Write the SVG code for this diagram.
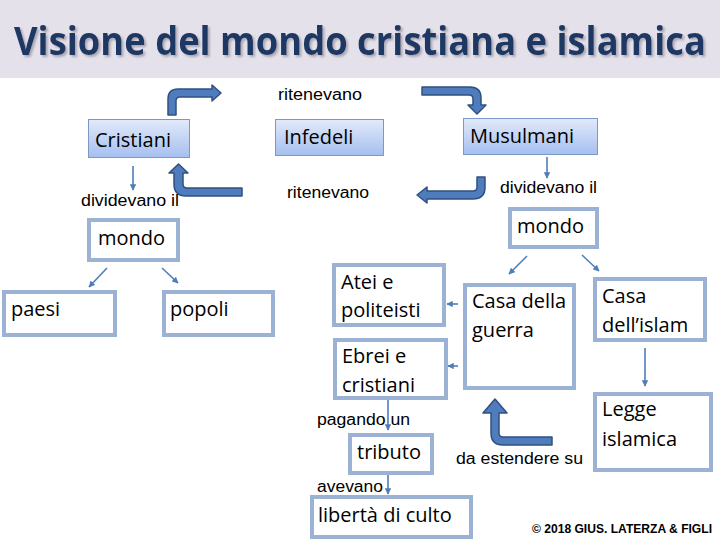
<svg xmlns="http://www.w3.org/2000/svg" width="720" height="540" viewBox="0 0 720 540">
<defs>
<linearGradient id="g" x1="0" y1="0" x2="0" y2="1">
<stop offset="0" stop-color="#e2eafa"/>
<stop offset="1" stop-color="#a5bff0"/>
</linearGradient>
<filter id="sh" x="-5%" y="-20%" width="110%" height="150%">
<feDropShadow dx="2" dy="2" stdDeviation="0.8" flood-color="#9a9aa8" flood-opacity="0.8"/>
</filter>
<marker id="ah" viewBox="0 0 10 10" refX="9" refY="5" markerWidth="4" markerHeight="4" orient="auto" markerUnits="strokeWidth">
<path d="M0,0 L10,5 L0,10 Z" fill="#4f7db8"/>
</marker>
<style>
.gbox{fill:url(#g);stroke:#7a98c8;stroke-width:1}
.wbox{fill:#ffffff;stroke:#9cb2d5;stroke-width:4}
.bt{font-family:"Open Sans","Noto Sans",sans-serif;font-size:20px;fill:#000}
.lb{font-family:"Liberation Sans",Arial,sans-serif;font-size:16px;fill:#000}
.ln{fill:none;stroke:#4f7db8;stroke-width:1.6;marker-end:url(#ah)}
.ba{fill:#4f7cbc;stroke:#2f5080;stroke-width:1.5;stroke-linejoin:round}
</style>
</defs>
<rect x="0" y="0" width="720" height="78" fill="#e5e1eb"/>
<text x="14" y="55" font-family="'Open Sans','Noto Sans',sans-serif" font-weight="bold" font-size="40" fill="#1f3864" filter="url(#sh)" textLength="692" lengthAdjust="spacingAndGlyphs">Visione del mondo cristiana e islamica</text>

<g id="cristiani"><rect class="gbox" x="88.5" y="119.5" width="101" height="38"/><text class="bt" x="95" y="147">Cristiani</text></g>
<g id="infedeli"><rect class="gbox" x="275.5" y="119.5" width="108" height="36"/><text class="bt" x="284" y="144">Infedeli</text></g>
<g id="musulmani"><rect class="gbox" x="463.5" y="118.5" width="134" height="36"/><text class="bt" x="470" y="143">Musulmani</text></g>
<g id="mondo1"><rect class="wbox" x="89" y="220" width="89" height="40"/><text class="bt" x="98" y="245">mondo</text></g>
<g id="paesi"><rect class="wbox" x="4" y="292" width="111" height="43"/><text class="bt" x="11" y="316">paesi</text></g>
<g id="popoli"><rect class="wbox" x="164" y="292" width="109" height="43"/><text class="bt" x="170" y="316">popoli</text></g>
<g id="mondo2"><rect class="wbox" x="510" y="209" width="87" height="38"/><text class="bt" x="517" y="233">mondo</text></g>
<g id="atei"><rect class="wbox" x="334" y="265" width="110" height="60"/><text class="bt" x="341" y="289">Atei e</text><text class="bt" x="341" y="317">politeisti</text></g>
<g id="guerra"><rect class="wbox" x="465" y="285" width="109" height="103"/><text class="bt" x="472" y="308">Casa della</text><text class="bt" x="472" y="337">guerra</text></g>
<g id="islam"><rect class="wbox" x="595" y="279" width="110" height="61"/><text class="bt" x="602" y="303">Casa</text><text class="bt" x="602" y="332">dell’islam</text></g>
<g id="ebrei"><rect class="wbox" x="335" y="340" width="111" height="58"/><text class="bt" x="342" y="363">Ebrei e</text><text class="bt" x="342" y="392">cristiani</text></g>
<g id="legge"><rect class="wbox" x="595" y="394" width="116" height="76"/><text class="bt" x="602" y="416">Legge</text><text class="bt" x="602" y="446">islamica</text></g>
<g id="tributo"><rect class="wbox" x="350" y="435" width="82" height="38"/><text class="bt" x="357" y="459">tributo</text></g>
<g id="liberta"><rect class="wbox" x="312" y="497" width="159" height="40"/><text class="bt" x="318" y="522">libertà di culto</text></g>

<g id="connectors">
<path class="ln" d="M133,166 V190"/>
<path class="ln" d="M547,157 V178"/>
<path class="ln" d="M107,268 L89,287"/>
<path class="ln" d="M162,268 L178,283"/>
<path class="ln" d="M527,256 L509,274"/>
<path class="ln" d="M582,255 L599,271"/>
<path class="ln" d="M458,304 H447"/>
<path class="ln" d="M458,366 H448"/>
<path class="ln" d="M645,348 V386"/>
<path class="ln" d="M388,400 V430"/>
<path class="ln" d="M388,475 V494"/>
<path class="ba" d="M168,115 V99 Q168,89 178,89 H212 V85 L221,93 L212,101 V97 H180 Q176,97 176,101 V115 Z"/>
<path class="ba" d="M422,87 H470 Q481,87 481,98 V105 H486 L477,114 L468,105 H473 V99 Q473,95 469,95 H422 Z"/>
<path class="ba" d="M477,177 H485 V187 Q485,199 473,199 H427 V203 L417,195 L427,187 V191 H473 Q477,191 477,187 Z"/>
<path class="ba" d="M242,188 H187 Q183,188 183,184 V173 H188 L178.5,164 L169,173 H174 V184 Q174,196 186,196 H242 Z"/>
<path class="ba" d="M552,437 H503 Q499,437 499,433 V413 H507 L495,399 L483,413 H491 V433 Q491,445 503,445 H552 Z"/>
</g>

<text class="lb" x="278" y="100" textLength="84" lengthAdjust="spacingAndGlyphs">ritenevano</text>
<text class="lb" x="287" y="198" textLength="82" lengthAdjust="spacingAndGlyphs">ritenevano</text>
<text class="lb" x="81" y="206" textLength="98" lengthAdjust="spacingAndGlyphs">dividevano il</text>
<text class="lb" x="500" y="193" textLength="97" lengthAdjust="spacingAndGlyphs">dividevano il</text>
<text class="lb" x="317" y="425" textLength="93" lengthAdjust="spacingAndGlyphs">pagando un</text>
<text class="lb" x="317" y="492" textLength="66" lengthAdjust="spacingAndGlyphs">avevano</text>
<text class="lb" x="456" y="464" textLength="127" lengthAdjust="spacingAndGlyphs">da estendere su</text>
<text x="532" y="533" font-family="'Liberation Sans',Arial,sans-serif" font-weight="bold" font-size="12" fill="#000" textLength="180" lengthAdjust="spacingAndGlyphs">© 2018 GIUS. LATERZA &amp; FIGLI</text>
</svg>
